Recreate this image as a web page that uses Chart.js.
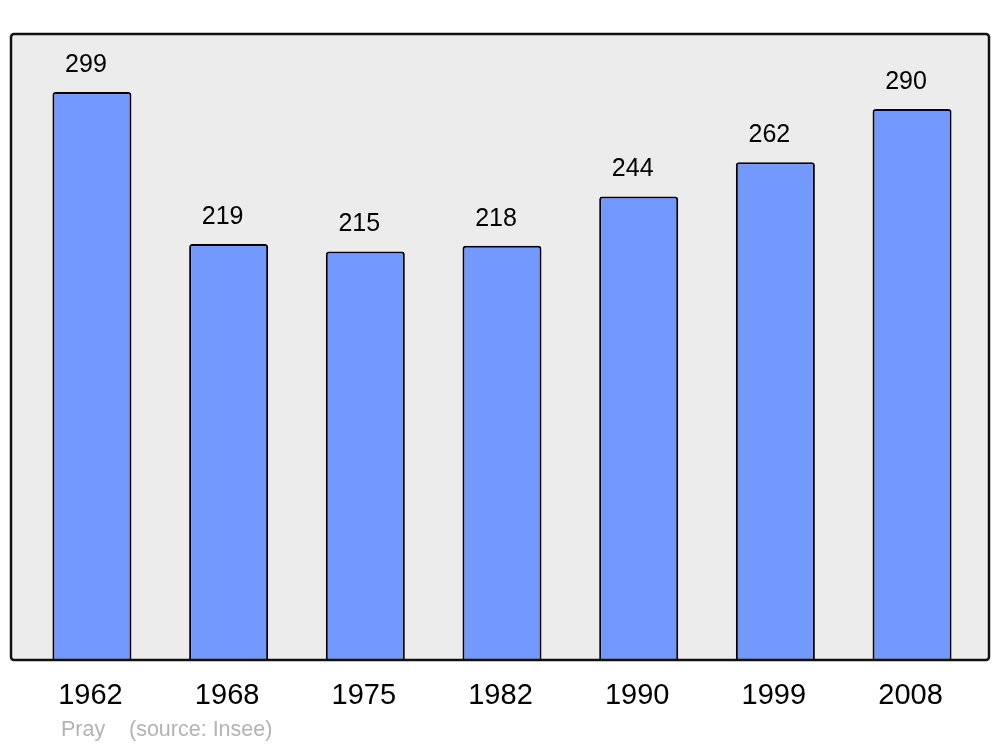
<!DOCTYPE html>
<html><head><meta charset="utf-8">
<script src="https://cdn.jsdelivr.net/npm/chart.js@4/dist/chart.umd.min.js"></script>
<style>html,body{margin:0;padding:0;background:#fff}#wrap{width:1000px;height:747px;position:relative}</style>
</head><body><div id="wrap"><canvas id="c" width="1000" height="747"></canvas></div>
<script>
const years = ['1962','1968','1975','1982','1990','1999','2008'];
const population = [299,219,215,218,244,262,290];
const footerName = 'Pray';
const footerSource = '(source: Insee)';

const framePlugin = {
  id:'frame',
  beforeDraw(chart){
    const ctx = chart.ctx;
    ctx.save();
    ctx.beginPath();
    if (ctx.roundRect) ctx.roundRect(11,34,978,626,3); else ctx.rect(11,34,978,626);
    ctx.fillStyle='#ececec'; ctx.fill();
    ctx.restore();
  },
  afterDatasetsDraw(chart){
    const ctx = chart.ctx;
    ctx.save();
    ctx.beginPath();
    if (ctx.roundRect) ctx.roundRect(11,34,978,626,3); else ctx.rect(11,34,978,626);
    ctx.lineWidth=2.5; ctx.strokeStyle='#111'; ctx.stroke();
    const xs = chart.scales.x, meta = chart.getDatasetMeta(0);
    ctx.fillStyle='#000'; ctx.textAlign='center'; ctx.textBaseline='middle';
    ctx.font='25px "Liberation Sans", Arial, sans-serif';
    meta.data.forEach((bar,i)=>{ ctx.fillText(String(population[i]), bar.x-6, bar.y-27); });
    ctx.font='29px "Liberation Sans", Arial, sans-serif';
    years.forEach((y,i)=>{ ctx.fillText(y, xs.getPixelForValue(i)-1.5, 696); });
    ctx.fillStyle='#b3b3b3'; ctx.textAlign='left';
    ctx.font='21.5px "Liberation Sans", Arial, sans-serif';
    ctx.fillText(footerName, 61, 730);
    ctx.fillText(footerSource, 129, 730);
    ctx.restore();
  }
};

new Chart(document.getElementById('c'), {
  type:'bar',
  data:{labels:years, datasets:[{data:population, backgroundColor:'#7399ff', borderColor:'#000', borderWidth:2, borderRadius:3, borderSkipped:'start', barPercentage:0.578, categoryPercentage:1}]},
  options:{
    responsive:false, animation:false, devicePixelRatio:1,
    layout:{padding:{left:23.6, right:19.6, top:34, bottom:87}},
    plugins:{legend:{display:false}, tooltip:{enabled:false}, title:{display:false}},
    scales:{
      x:{display:false},
      y:{display:false, min:0, max:329.5}
    }
  },
  plugins:[framePlugin]
});
</script></body></html>
